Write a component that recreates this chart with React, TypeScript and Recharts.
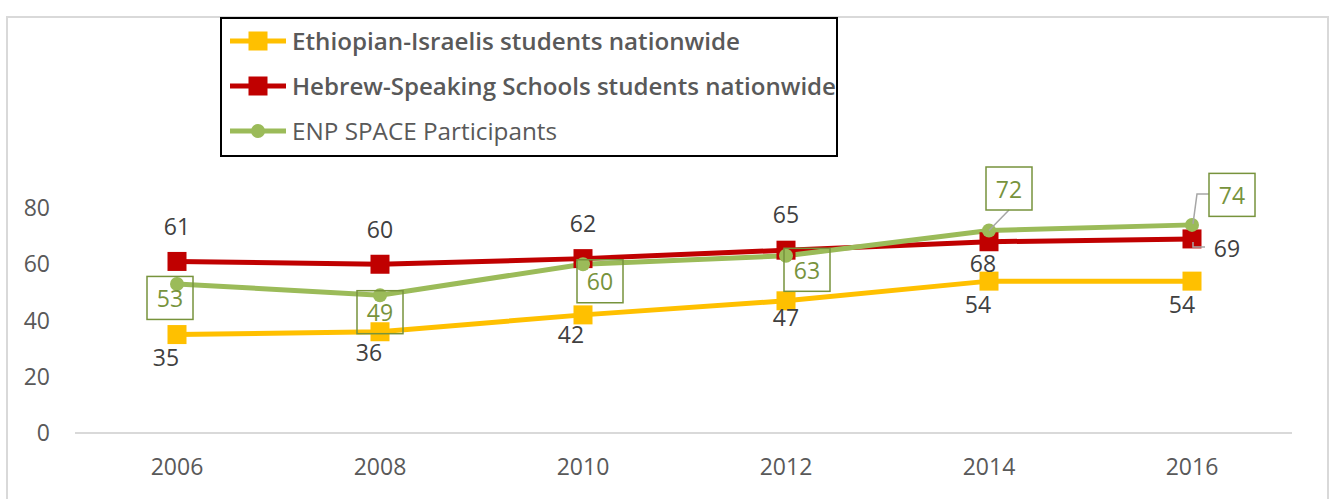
import React from "react";
import { LineChart, Line, XAxis, YAxis, Legend, LabelList } from "recharts";

const years = ["2006", "2008", "2010", "2012", "2014", "2016"];
const ethiopianIsraelis = [35, 36, 42, 47, 54, 54];
const hebrewSpeaking = [61, 60, 62, 65, 68, 69];
const enpSpace = [53, 49, 60, 63, 72, 74];
const yTicks = [0, 20, 40, 60, 80];

const seriesNames = {
  ethiopian: "Ethiopian-Israelis students nationwide",
  hebrew: "Hebrew-Speaking Schools students nationwide",
  enp: "ENP SPACE Participants",
};

const data = years.map((year, i) => ({
  year,
  ethiopian: ethiopianIsraelis[i],
  hebrew: hebrewSpeaking[i],
  enp: enpSpace[i],
}));

// where each data label sits, relative to its point (dx, dy)
const ethiopianLabelOffsets = [[-11, 22], [-11, 20], [-12, 19], [0, 16], [-11, 23], [-10, 23]];
const hebrewLabelOffsets = [[0, -35], [0, -35], [0, -36], [0, -36], [-6, 21], [35, 9]];
const enpLabelOffsets = [[-7, 14], [0, 17], [17, 17], [21, 14], [20, -42], [40, -30]];

const YELLOW = "#FFC000";
const RED = "#C00000";
const GREEN = "#9BBB59";
const DARK_GREEN = "#77933C";
const LEADER = "#A6A6A6";
const FONT = "'Open Sans', sans-serif";
const NUM_SIZE = 23;

const SquareDot = (color: string) => (props: any) => {
  const { cx, cy, index } = props;
  if (cx == null || cy == null) return <g key={index} />;
  return <rect key={index} x={cx - 9.5} y={cy - 9.5} width={19} height={19} fill={color} />;
};

const CircleDot = (props: any) => {
  const { cx, cy, index } = props;
  if (cx == null || cy == null) return <g key={index} />;
  return <circle key={index} cx={cx} cy={cy} r={7} fill={GREEN} />;
};

const plainLabel = (offsets: number[][], leaderAt?: number) => (props: any) => {
  const { x, y, value, index } = props;
  const [dx, dy] = offsets[index];
  return (
    <g>
      {leaderAt === index && (
        <polyline
          points={`${x + 1},${y + 3} ${x + 1},${y + 8} ${x + 13},${y + 8}`}
          fill="none"
          stroke={LEADER}
          strokeWidth={1.5}
        />
      )}
      <text
        x={x + dx}
        y={y + dy}
        textAnchor="middle"
        dominantBaseline="central"
        fontFamily={FONT}
        fontSize={NUM_SIZE}
        fill="#404040"
      >
        {value}
      </text>
    </g>
  );
};

const boxedLabel = (props: any) => {
  const { x, y, value, index } = props;
  const [dx, dy] = enpLabelOffsets[index];
  const cx = x + dx;
  const cy = y + dy;
  return (
    <g>
      {index === 4 && <line x1={cx} y1={cy + 21.5} x2={x} y2={y} stroke={LEADER} strokeWidth={1.5} />}
      {index === 5 && (
        <polyline
          points={`${x + 1},${y - 1} ${x + 5},${y - 31} ${x + 17},${y - 31}`}
          fill="none"
          stroke={LEADER}
          strokeWidth={1.5}
        />
      )}
      <rect x={cx - 23} y={cy - 21.5} width={46} height={43} fill="none" stroke={DARK_GREEN} strokeWidth={1.5} />
      <text
        x={cx}
        y={cy}
        textAnchor="middle"
        dominantBaseline="central"
        fontFamily={FONT}
        fontSize={NUM_SIZE}
        fill={DARK_GREEN}
      >
        {value}
      </text>
    </g>
  );
};

const legendLayout = [
  { key: "ethiopian", bold: true, width: 448, square: true },
  { key: "hebrew", bold: true, width: 544, square: true },
  { key: "enp", bold: false, width: 265, square: false },
];

const LegendBox = (props: any) => {
  const payload = props.payload || [];
  return (
    <svg width={618} height={140}>
      <rect x={1} y={1} width={616} height={138} fill="#fff" stroke="#000" strokeWidth={2} />
      {legendLayout.map((row, i) => {
        const entry = payload.find((p: any) => p.dataKey === row.key);
        if (!entry) return null;
        const cy = 24 + i * 45;
        return (
          <g key={row.key}>
            <line x1={10} x2={66} y1={cy} y2={cy} stroke={entry.color} strokeWidth={5} />
            {row.square ? (
              <rect x={28.5} y={cy - 9.5} width={19} height={19} fill={entry.color} />
            ) : (
              <circle cx={38} cy={cy} r={7} fill={entry.color} />
            )}
            <text
              x={72}
              y={cy}
              dominantBaseline="central"
              fontFamily={FONT}
              fontSize={23}
              fontWeight={row.bold ? 600 : 400}
              fill="#595959"
              textLength={row.width}
              lengthAdjust="spacingAndGlyphs"
            >
              {entry.value}
            </text>
          </g>
        );
      })}
    </svg>
  );
};

export default function App() {
  return (
    <div style={{ position: "absolute", left: 0, top: 0, width: 1331, height: 499, overflow: "hidden", background: "#fff" }}>
      <div
        style={{
          position: "absolute",
          left: 6,
          top: 16,
          width: 1319,
          height: 499,
          border: "2px solid #D9D9D9",
        }}
      />
      <LineChart width={1331} height={499} data={data} margin={{ top: 208, right: 39, bottom: 26, left: 0 }}>
        <XAxis
          dataKey="year"
          padding={{ left: 102, right: 100 }}
          axisLine={{ stroke: "#D9D9D9", strokeWidth: 2 }}
          tickLine={false}
          tickMargin={20}
          height={40}
          tick={{ fill: "#595959", fontSize: NUM_SIZE, fontFamily: FONT }}
        />
        <YAxis
          domain={[0, 80]}
          ticks={yTicks}
          width={75}
          axisLine={false}
          tickLine={false}
          tickMargin={19}
          tick={{ fill: "#595959", fontSize: NUM_SIZE, fontFamily: FONT }}
        />
        <Legend
          verticalAlign="middle"
          align="center"
          content={<LegendBox />}
          wrapperStyle={{ position: "absolute", left: 220, top: 17, width: 618, height: 140 }}
        />
        <Line
          dataKey="ethiopian"
          name={seriesNames.ethiopian}
          stroke={YELLOW}
          strokeWidth={5}
          dot={SquareDot(YELLOW)}
          activeDot={false}
          isAnimationActive={false}
        >
          <LabelList dataKey="ethiopian" content={plainLabel(ethiopianLabelOffsets)} />
        </Line>
        <Line
          dataKey="hebrew"
          name={seriesNames.hebrew}
          stroke={RED}
          strokeWidth={5}
          dot={SquareDot(RED)}
          activeDot={false}
          isAnimationActive={false}
        >
          <LabelList dataKey="hebrew" content={plainLabel(hebrewLabelOffsets, 5)} />
        </Line>
        <Line
          dataKey="enp"
          name={seriesNames.enp}
          stroke={GREEN}
          strokeWidth={5}
          dot={CircleDot}
          activeDot={false}
          isAnimationActive={false}
        >
          <LabelList dataKey="enp" content={boxedLabel} />
        </Line>
      </LineChart>
    </div>
  );
}
